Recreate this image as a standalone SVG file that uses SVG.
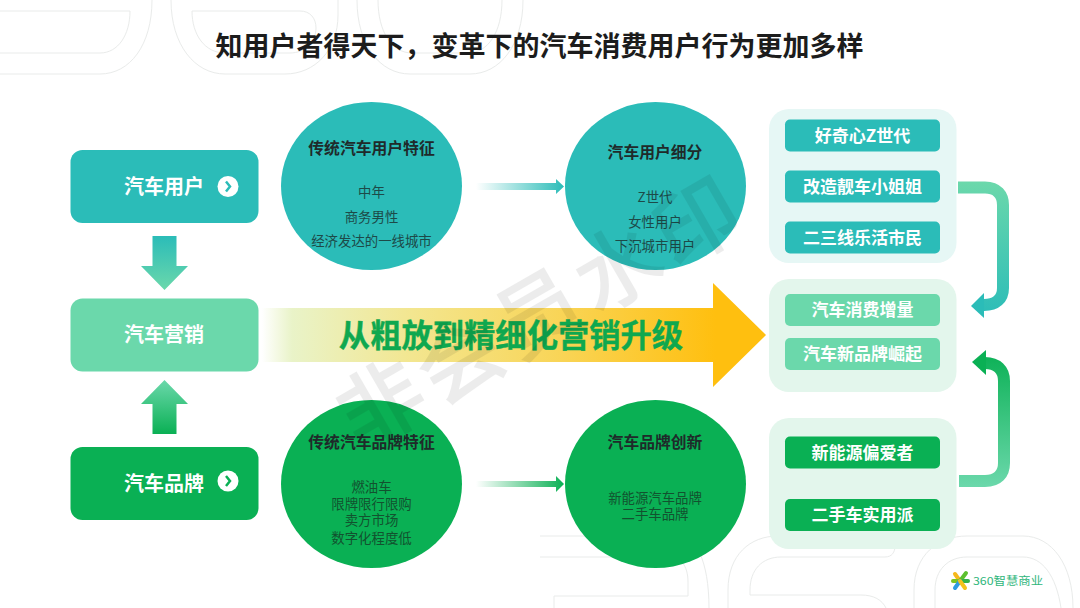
<svg xmlns="http://www.w3.org/2000/svg" width="1080" height="608" viewBox="0 0 1080 608">
<defs>
<linearGradient id="gDown" x1="0" y1="0" x2="0" y2="1"><stop offset="0" stop-color="#2bbcb8"/><stop offset="1" stop-color="#6bd8ab"/></linearGradient>
<linearGradient id="gUp" x1="0" y1="0" x2="0" y2="1"><stop offset="0" stop-color="#6bd8ab"/><stop offset="1" stop-color="#0ab054"/></linearGradient>
<linearGradient id="gBig" gradientUnits="userSpaceOnUse" x1="262" y1="0" x2="766" y2="0"><stop offset="0" stop-color="#ffffff"/><stop offset="0.06" stop-color="#e9f3c8"/><stop offset="0.3" stop-color="#f3e68f"/><stop offset="0.6" stop-color="#f9d455"/><stop offset="0.9" stop-color="#ffbf0f"/><stop offset="1" stop-color="#ffbf0f"/></linearGradient>
<linearGradient id="gS1" gradientUnits="userSpaceOnUse" x1="476" y1="0" x2="564" y2="0"><stop offset="0" stop-color="#ffffff"/><stop offset="1" stop-color="#2bbcb8"/></linearGradient>
<linearGradient id="gS2" gradientUnits="userSpaceOnUse" x1="476" y1="0" x2="564" y2="0"><stop offset="0" stop-color="#ffffff"/><stop offset="1" stop-color="#0ab054"/></linearGradient>
<linearGradient id="gC1" gradientUnits="userSpaceOnUse" x1="0" y1="182" x2="0" y2="318"><stop offset="0" stop-color="#6bd8ab"/><stop offset="1" stop-color="#2bbcb8"/></linearGradient>
<linearGradient id="gC2" gradientUnits="userSpaceOnUse" x1="0" y1="487" x2="0" y2="350"><stop offset="0" stop-color="#6bd8ab"/><stop offset="1" stop-color="#0ab054"/></linearGradient>
</defs>
<style>
text{font-family:"Noto Sans CJK SC","Liberation Sans",sans-serif;text-anchor:middle}
.deco{fill:none;stroke:#e9ebea;stroke-width:1}
.teal{fill:#2bbcb8}.mint{fill:#6bd8ab}.green{fill:#0ab054}
.box{font-size:20px;font-weight:700;fill:#fff}
.btn{font-size:17px;font-weight:700;fill:#fff}
.head{font-size:15.8px;font-weight:700;fill:#1f2a2a}
.body{font-size:13.4px;font-weight:400;fill:#1d4a48}
.bodyg{font-size:13.4px;font-weight:400;fill:#12522f}
.chev{fill:none;stroke:#2bbcb8;stroke-width:2.5}
.petal{fill:none;stroke-width:4;stroke-linecap:round}
</style>
<rect width="1080" height="608" fill="#fff"/>
<g id="decoration">
<path class="deco" d="M0 11H130C130 35 118 53 100 53H0"/>
<path class="deco" d="M152 0C152 45 130 74 100 74H0"/>
<path class="deco" d="M171 0C171 45 195 74 225 74H285C315 74 338 50 338 15V0"/>
<path class="deco" d="M192 11H300C310 11 316 18 316 28C316 42 305 53 290 53H225C205 53 192 35 192 11Z"/>
<path class="deco" d="M357 0C357 45 380 74 410 74H470C500 74 523 45 523 0"/>
<path class="deco" d="M378 0C378 32 392 53 412 53H468C488 53 502 32 502 0"/>
<path class="deco" d="M540 536H680C695 536 709 560 709 608"/>
<path class="deco" d="M540 557H670C680 557 688 565 688 582V596H554V608"/>
<path class="deco" d="M728 608V590C728 555 750 536 778 536H885C892 536 895 540 895 546C895 552 892 557 885 557H781C762 557 750 570 750 590V595H861C874 595 882 600 886 608"/>
<path class="deco" d="M914 608V590C914 555 938 536 967 536H1023C1052 536 1073 565 1073 608"/>
<path class="deco" d="M935 608V590C935 570 948 557 967 557H1023C1042 557 1056 575 1061 608"/>
</g>
<text x="539.5" y="56" style="font-size:27px;font-weight:700;fill:#1c1c1c">知用户者得天下，变革下的汽车消费用户行为更加多样</text>
<g id="connectors">
<path d="M152.5 236H176.5V266H188L164.5 290L141 266H152.5Z" fill="url(#gDown)"/>
<path d="M152.5 434H176.5V404H188L164.5 380L141 404H152.5Z" fill="url(#gUp)"/>
<path d="M262 308H713V283L766 335L713 387V362H262Z" fill="url(#gBig)"/>
<path d="M476 183H556V179L564 186.5L556 194V190H476Z" fill="url(#gS1)"/>
<path d="M476 481H556V476L564 484L556 492V487H476Z" fill="url(#gS2)"/>
<path d="M958 187.5H985C997 187.5 1003 195 1003 205V288C1003 299 996 305 984 305" fill="none" stroke="url(#gC1)" stroke-width="12"/>
<path d="M971 306L984 293V318Z" fill="#2bbcb8"/>
<path d="M959 481H985C998 481 1004 474 1004 463V381C1004 370 997 363 985 363" fill="none" stroke="url(#gC2)" stroke-width="12"/>
<path d="M972 362L986 350V375Z" fill="#0ab054"/>
</g>
<text id="big-label" x="511" y="347" style="font-size:31.3px;font-weight:700;fill:#0fa84f;stroke:#0fa84f;stroke-width:0.4">从粗放到精细化营销升级</text>
<g id="node-user"><rect class="teal" x="70.5" y="150" width="188" height="73" rx="12"/><text class="box" x="164" y="194">汽车用户</text><circle cx="228" cy="186.5" r="10.5" fill="#fff"/><path class="chev" d="M226 181.5L230 186.5L226 191.5"/></g>
<g id="node-marketing"><rect class="mint" x="70.5" y="298.5" width="188" height="73" rx="12"/><text class="box" x="164" y="342">汽车营销</text></g>
<g id="node-brand"><rect class="green" x="70.5" y="447" width="188" height="73" rx="12"/><text class="box" x="164" y="491">汽车品牌</text><circle cx="228" cy="481" r="10.5" fill="#fff"/><path class="chev" style="stroke:#0ab054" d="M226 476L230 481L226 486"/></g>
<g id="circle-user-traits"><ellipse class="teal" cx="371.5" cy="186" rx="90.5" ry="84"/><text class="head" x="371.5" y="154">传统汽车用户特征</text><text class="body" x="371.5" y="196.5">中年</text><text class="body" x="371.5" y="221.5">商务男性</text><text class="body" x="371.5" y="246">经济发达的一线城市</text></g>
<g id="circle-user-segments"><ellipse class="teal" cx="655.5" cy="186" rx="90.5" ry="84"/><text class="head" x="655" y="158">汽车用户细分</text><text class="body" x="655" y="202">Z世代</text><text class="body" x="655" y="226.5">女性用户</text><text class="body" x="655" y="251">下沉城市用户</text></g>
<g id="circle-brand-traits"><ellipse class="green" cx="371.5" cy="484" rx="90.5" ry="84"/><text class="head" x="371.5" y="448">传统汽车品牌特征</text><text class="bodyg" x="371.5" y="491.5">燃油车</text><text class="bodyg" x="371.5" y="509">限牌限行限购</text><text class="bodyg" x="371.5" y="525">卖方市场</text><text class="bodyg" x="371.5" y="543">数字化程度低</text></g>
<g id="circle-brand-innovation"><ellipse class="green" cx="655.5" cy="484" rx="90.5" ry="84"/><text class="head" x="655" y="448">汽车品牌创新</text><text class="bodyg" x="655" y="502.5">新能源汽车品牌</text><text class="bodyg" x="655" y="519">二手车品牌</text></g>
<g id="panel-users"><rect x="769" y="109" width="187.5" height="154" rx="20" fill="#e6f7f5"/>
<rect class="teal" x="785" y="119.5" width="155" height="32" rx="5"/><text class="btn" x="862.5" y="141.5">好奇心Z世代</text>
<rect class="teal" x="785" y="170.5" width="155" height="32" rx="5"/><text class="btn" x="862.5" y="192.5">改造靓车小姐姐</text>
<rect class="teal" x="785" y="221.5" width="155" height="32" rx="5"/><text class="btn" x="862.5" y="243.5">二三线乐活市民</text></g>
<g id="panel-growth"><rect x="769" y="279" width="187.5" height="113" rx="20" fill="#e3f6ec"/>
<rect class="mint" x="785" y="294" width="155" height="32" rx="5"/><text class="btn" x="862.5" y="316">汽车消费增量</text>
<rect class="mint" x="785" y="338" width="155" height="32" rx="5"/><text class="btn" x="862.5" y="360">汽车新品牌崛起</text></g>
<g id="panel-brands"><rect x="769" y="418" width="187.5" height="131" rx="20" fill="#e3f6ec"/>
<rect class="green" x="785" y="436.5" width="155" height="32" rx="5"/><text class="btn" x="862.5" y="458.5">新能源偏爱者</text>
<rect class="green" x="785" y="499" width="155" height="32" rx="5"/><text class="btn" x="862.5" y="521">二手车实用派</text></g>
<g id="logo">
<path class="petal" stroke="#f5b81c" d="M960 581L955 574"/><path class="petal" stroke="#5cc02e" d="M960 581L966 573"/><path class="petal" stroke="#7cc520" d="M960 581H953"/><path class="petal" stroke="#35b34a" d="M960 581H968"/><path class="petal" stroke="#2f9be0" d="M960 581L955 588"/><path class="petal" stroke="#f5c21c" d="M960 581L965 588"/>
<text x="1008" y="585" textLength="70" lengthAdjust="spacingAndGlyphs" style="font-size:11px;fill:#2fb67b">360智慧商业</text>
</g>
<text id="watermark" transform="translate(542 312) rotate(-30)" y="30" opacity="0.07" style="font-size:84px;font-weight:400;fill:#000;stroke:#000;stroke-width:2;letter-spacing:7px">非会员水印</text>
</svg>
